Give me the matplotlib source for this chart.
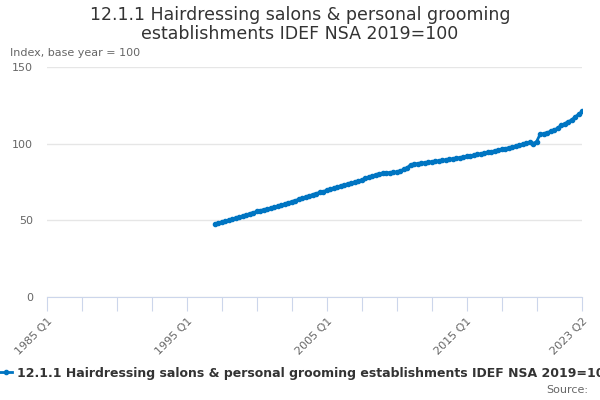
import matplotlib
matplotlib.use('Agg')
import matplotlib.pyplot as plt
import numpy as np

# quarterly index values, 1997 Q1 .. 2023 Q2
start_year = 1997
values = [
    47.5, 48.2, 48.9, 49.5,      # 1997
    50.2, 50.8, 51.6, 52.2,      # 1998
    52.9, 53.6, 54.4, 55.0,      # 1999
    55.8, 56.4, 57.0, 57.4,      # 2000
    58.0, 58.6, 59.3, 60.0,      # 2001
    60.7, 61.5, 62.2, 62.9,      # 2002
    63.7, 64.5, 65.3, 66.0,      # 2003
    66.8, 67.5, 68.2, 68.8,      # 2004
    69.6, 70.3, 71.0, 71.8,      # 2005
    72.5, 73.2, 73.8, 74.4,      # 2006
    75.0, 75.6, 76.4, 77.3,      # 2007
    78.2, 79.0, 79.8, 80.4,      # 2008
    80.8, 81.0, 81.1, 81.3,      # 2009
    81.5, 82.3, 83.2, 84.2,      # 2010
    86.4, 86.7, 87.0, 87.3,      # 2011
    87.6, 87.9, 88.2, 88.5,      # 2012
    88.8, 89.1, 89.4, 89.8,      # 2013
    90.1, 90.5, 90.9, 91.3,      # 2014
    91.7, 92.1, 92.5, 93.0,      # 2015
    93.4, 93.9, 94.4, 94.8,      # 2016
    95.3, 95.8, 96.3, 96.8,      # 2017
    97.3, 97.8, 98.4, 99.0,      # 2018
    99.6, 100.2, 100.9, 100.1,   # 2019
    101.3, 106.0, 106.5, 107.2,  # 2020
    108.0, 109.0, 110.0, 112.0,  # 2021
    113.0, 114.2, 115.5, 117.3,  # 2022
    119.2, 121.0,                # 2023
]
series_name = '12.1.1 Hairdressing salons & personal grooming establishments IDEF NSA 2019=100'
title = '12.1.1 Hairdressing salons & personal grooming\nestablishments IDEF NSA 2019=100'

axis_start = 1985
axis_end_q = (2023 - axis_start) * 4 + 1  # 2023 Q2
offset = (start_year - axis_start) * 4
x = np.arange(len(values)) + offset

labels_at = [0, 40, 80, 120, axis_end_q]


def qlabel(i):
    return f'{axis_start + i // 4} Q{i % 4 + 1}'


fig = plt.figure(figsize=(6, 4), dpi=100)
ax = fig.add_axes([47 / 600, 1 - 297 / 400, 535 / 600, 230 / 400])

line_color = '#0075c2'
ax.plot(x, values, color=line_color, lw=2, marker='o', ms=3, label=series_name)

ax.set_xlim(0, axis_end_q)
ax.set_ylim(0, 150)
ax.set_yticks([0, 50, 100, 150])
ax.grid(axis='y', color='#e6e6e6', lw=1)
ax.set_axisbelow(True)

ticks = list(range(0, 141, 10)) + [axis_end_q]
ax.set_xticks(ticks)
ax.set_xticklabels([qlabel(t) if t in labels_at else '' for t in ticks],
                   rotation=45, ha='right', rotation_mode='anchor')

for s in ['top', 'right', 'left']:
    ax.spines[s].set_visible(False)
ax.spines['bottom'].set_color('#ccd6eb')
ax.tick_params(axis='x', colors='#ccd6eb', length=10, labelcolor='#666666',
               labelsize=8, pad=4)
ax.tick_params(axis='y', length=0, labelcolor='#666666', labelsize=8, pad=10)

fig.text(0.5, 1 - 6 / 400, title, ha='center', va='top', fontsize=12.5,
         color='#333333', linespacing=1.05)
fig.text(10 / 600, 1 - 53 / 400, 'Index, base year = 100', ha='left',
         va='center', fontsize=8, color='#666666')

# legend runs off the right edge, as in the original
fig.legend(loc='center left', bbox_to_anchor=(-0.019, 1 - 373 / 400),
           frameon=False, handlelength=1.0, handletextpad=0.4,
           prop={'weight': 'bold', 'size': 9}, labelcolor='#333333')

fig.text(588 / 600, 1 - 390 / 400, 'Source:', ha='right', va='center',
         fontsize=8, color='#666666')

fig.savefig('out.png', dpi=100)
